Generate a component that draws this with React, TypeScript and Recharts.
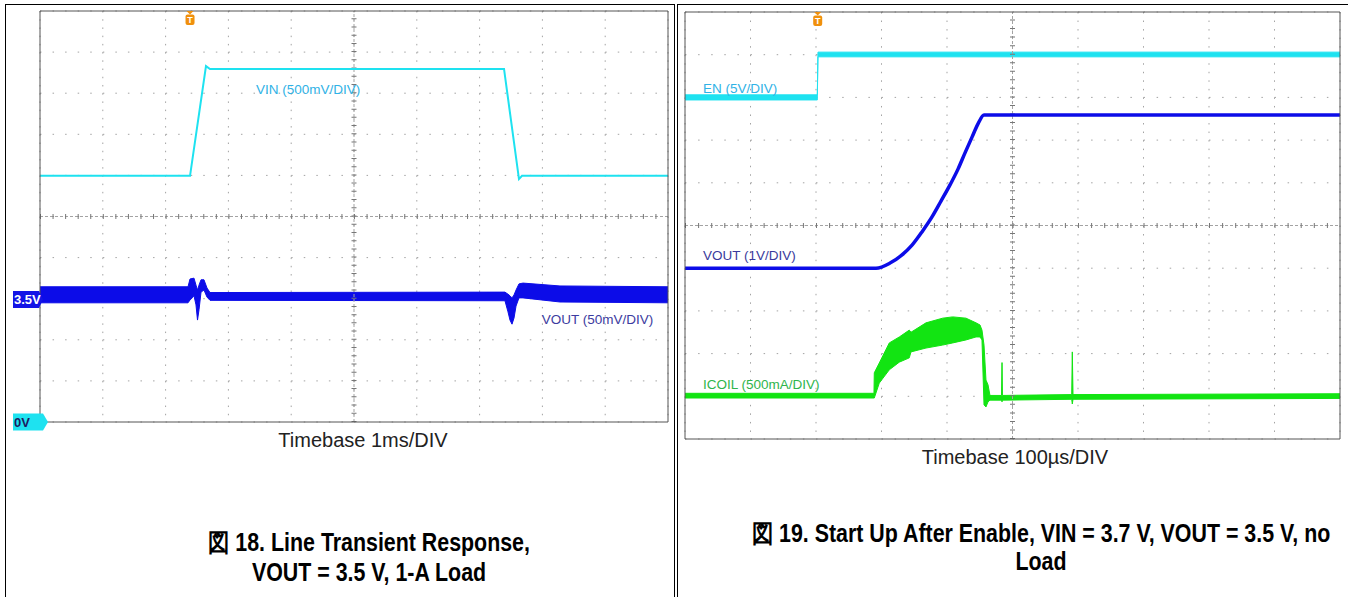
import React from "react";
import {
  ComposedChart,
  Line,
  Area,
  XAxis,
  YAxis,
  CartesianGrid,
  ReferenceLine,
  ReferenceDot,
} from "recharts";

const FONT = "'Liberation Sans', Arial, Helvetica, sans-serif";

const GRID = "#a3a3a3";
const FRAME = "#555555";
const CYAN = "#1ee2f0";
const BLUE = "#0c0ce8";
const GREEN = "#12e412";
const ORANGE = "#f0900c";

// scope screen: 10 x 10 divisions, minor ticks every 1/5 div
const majorTicks = [0, 1, 2, 3, 4, 5, 6, 7, 8, 9, 10];
const minorTicks = Array.from({ length: 51 }, (_, i) => (i * 2) / 10);

// --- Fig 18: line transient (x = ms, 1ms/div; y = divisions) ---
const vinTime = [0, 2.389, 2.643, 2.707, 7.389, 7.627, 7.675, 10];
const vinLevel = [5.99, 5.99, 8.66, 8.59, 8.59, 5.91, 5.99, 5.99];

const voutLTime = [
  0, 2.357, 2.389, 2.452, 2.484, 2.508, 2.532, 2.564, 2.611, 2.659, 2.707,
  7.404, 7.452, 7.484, 7.516, 7.548, 7.58, 7.627, 7.691, 8.28, 10,
];
const voutLLow = [
  2.9, 2.9, 2.97, 3.07, 2.85, 2.48, 2.73, 3.16, 3.21, 3.04, 2.96, 2.95, 2.68,
  2.48, 2.38, 2.53, 2.82, 3.02, 3.02, 2.92, 2.9,
];
const voutLHigh = [
  3.29, 3.29, 3.48, 3.5, 3.33, 3.21, 3.33, 3.46, 3.46, 3.26, 3.15, 3.16, 3.11,
  3.07, 3.02, 3.09, 3.21, 3.36, 3.38, 3.31, 3.29,
];

// --- Fig 19: start up after enable (x = divisions of 100us; y = divisions) ---
const enTime = [0, 2.02, 2.03, 10];
const enLow = [7.94, 7.94, 8.95, 8.95];
const enHigh = [8.06, 8.06, 9.06, 9.06];

const voutRTime = [
  0, 2.916, 3.13, 3.313, 3.466, 3.618, 3.771, 3.908, 4.046, 4.168, 4.275,
  4.382, 4.473, 4.565, 10,
];
const voutRLevel = [
  4.0, 4.0, 4.12, 4.31, 4.54, 4.85, 5.2, 5.57, 5.95, 6.32, 6.7, 7.07, 7.38,
  7.59, 7.59,
];

const icoilTime = [
  0, 2.885, 2.89, 2.966, 3.119, 3.272, 3.424, 3.45, 3.679, 3.934, 4.087, 4.29,
  4.443, 4.504, 4.534, 4.565, 4.595, 4.626, 4.656, 4.832, 4.84, 4.847, 5.904,
  5.913, 5.924, 10,
];
const icoilLow = [
  0.96, 0.96, 0.96, 1.31, 1.62, 1.8, 1.9, 2.04, 2.13, 2.2, 2.25, 2.32, 2.39,
  2.39, 2.32, 0.8, 0.75, 0.87, 0.91, 0.91, 0.87, 0.91, 0.93, 0.82, 0.93, 0.95,
];
const icoilHigh = [
  1.07, 1.07, 1.55, 1.78, 2.25, 2.39, 2.55, 2.5, 2.72, 2.83, 2.86, 2.83, 2.72,
  2.67, 2.55, 2.2, 1.38, 1.27, 1.02, 1.02, 1.79, 1.02, 1.04, 2.04, 1.04, 1.06,
];

const toLine = (t: number[], v: number[]) => t.map((x, i) => ({ t: x, v: v[i] }));
const toBand = (t: number[], lo: number[], hi: number[]) =>
  t.map((x, i) => ({ t: x, band: [lo[i], hi[i]] }));

const vinData = toLine(vinTime, vinLevel);
const voutLData = toBand(voutLTime, voutLLow, voutLHigh);
const enData = toBand(enTime, enLow, enHigh);
const voutRData = toLine(voutRTime, voutRLevel);
const icoilData = toBand(icoilTime, icoilLow, icoilHigh);

// grid, center cross and framed edges of the scope screen
function scopeScreen(hStep: number, vStep: number) {
  const edge = {
    type: "number" as const,
    domain: [0, 10],
    ticks: minorTicks,
    interval: 0 as const,
    mirror: true,
    tick: false,
    tickSize: 4,
    axisLine: { stroke: FRAME },
    tickLine: { stroke: FRAME },
    allowDataOverflow: true,
  };
  return [
    <XAxis key="x0" xAxisId={0} dataKey="t" type="number" domain={[0, 10]} ticks={majorTicks} hide allowDataOverflow />,
    <YAxis key="y0" yAxisId={0} type="number" domain={[0, 10]} ticks={majorTicks} hide allowDataOverflow />,
    <XAxis key="xt" xAxisId="top" orientation="top" {...edge} />,
    <XAxis key="xb" xAxisId="bot" orientation="bottom" {...edge} />,
    <YAxis key="yl" yAxisId="lft" orientation="left" {...edge} />,
    <YAxis key="yr" yAxisId="rgt" orientation="right" {...edge} />,
    <CartesianGrid key="gh" vertical={false} stroke={GRID} strokeDasharray={`1.5 ${hStep - 1.5}`} />,
    <CartesianGrid key="gv" horizontal={false} stroke={GRID} strokeDasharray={`1.5 ${vStep - 1.5}`} />,
    <ReferenceLine key="ch" y={5} stroke={GRID} strokeDasharray="3 2" />,
    <ReferenceLine key="cv" x={5} stroke={GRID} strokeDasharray="3 2" />,
    <ReferenceLine key="ch2" y={5} stroke="#777" strokeWidth={5} strokeDasharray={`1 ${hStep - 1}`} />,
    <ReferenceLine key="cv2" x={5} stroke="#777" strokeWidth={5} strokeDasharray={`1 ${vStep - 1}`} />,
  ];
}

const triggerShape = (p: any) => (
  <g>
    <polygon points={`${p.cx - 3.5},${p.cy} ${p.cx + 3.5},${p.cy} ${p.cx},${p.cy + 3.5}`} fill={ORANGE} />
    <rect x={p.cx - 4.5} y={p.cy + 3.5} width={9} height={10.5} rx={2} fill={ORANGE} />
    <text x={p.cx} y={p.cy + 12.2} textAnchor="middle" fill="#fff" fontSize={9} fontWeight="bold" fontFamily={FONT}>
      T
    </text>
  </g>
);

const labelShape = (text: string, color: string) => (p: any) => (
  <text x={p.cx} y={p.cy} dy="0.35em" fill={color} fontSize={13.5} fontFamily={FONT}>
    {text}
  </text>
);

const levelMarker = (text: string, fill: string, color: string, body: number, tip: number) => (p: any) => (
  <g>
    <polygon
      points={`${p.cx - 27},${p.cy - 8.5} ${p.cx + body},${p.cy - 8.5} ${p.cx + tip},${p.cy} ${p.cx + body},${p.cy + 8.5} ${p.cx - 27},${p.cy + 8.5}`}
      fill={fill}
    />
    <text x={p.cx - 26} y={p.cy} dy="0.36em" fill={color} fontSize={13} fontWeight="bold" fontFamily={FONT}>
      {text}
    </text>
  </g>
);

const captionStyle = (left: number, top: number, lineHeight: number): React.CSSProperties => ({
  position: "absolute",
  left,
  top,
  width: 800,
  textAlign: "center",
  fontFamily: FONT,
  fontWeight: "bold",
  fontSize: 25,
  lineHeight: `${lineHeight}px`,
  whiteSpace: "nowrap",
  color: "#000",
  transform: "scaleX(0.855)",
  transformOrigin: "50% 0",
});

export default function App() {
  return (
    <div
      style={{
        position: "absolute",
        left: 0,
        top: 0,
        width: 1348,
        height: 597,
        background: "#fff",
        overflow: "hidden",
        fontFamily: FONT,
      }}
    >
      {/* panel borders */}
      <div
        style={{
          position: "absolute",
          left: 5,
          top: 4,
          width: 668,
          height: 620,
          borderLeft: "1.5px solid #000",
          borderTop: "1.5px solid #000",
          borderRight: "1.5px solid #000",
        }}
      />
      <div
        style={{
          position: "absolute",
          left: 677,
          top: 4,
          width: 700,
          height: 620,
          borderLeft: "1.5px solid #000",
          borderTop: "1.5px solid #000",
        }}
      />

      {/* Fig 18 */}
      <div style={{ position: "absolute", left: 0, top: 0 }}>
        <ComposedChart width={680} height={440} margin={{ top: 11, right: 12, bottom: 18, left: 40 }}>
          {scopeScreen(12.56, 8.22)}
          <Area data={voutLData} dataKey="band" type="linear" stroke={BLUE} strokeWidth={1} fill={BLUE} fillOpacity={1} isAnimationActive={false} />
          <Line data={vinData} dataKey="v" type="linear" stroke={CYAN} strokeWidth={2} dot={false} isAnimationActive={false} />
          <ReferenceDot x={3.44} y={8.1} r={0} shape={labelShape("VIN (500mV/DIV)", "#30b2e6")} />
          <ReferenceDot x={7.99} y={2.49} r={0} shape={labelShape("VOUT (50mV/DIV)", "#3c3ca0")} />
          <ReferenceDot x={2.389} y={10} r={0} ifOverflow="visible" shape={triggerShape} />
          <ReferenceDot x={0} y={2.98} r={0} ifOverflow="visible" shape={levelMarker("3.5V", "#1414e6", "#fff", -1, 3)} />
          <ReferenceDot x={0} y={0} r={0} ifOverflow="visible" shape={levelMarker("0V", CYAN, "#1c1c60", 3, 8)} />
        </ComposedChart>
      </div>

      {/* Fig 19 */}
      <div style={{ position: "absolute", left: 676, top: 0 }}>
        <ComposedChart width={672} height={460} margin={{ top: 12, right: 8, bottom: 21, left: 9 }}>
          {scopeScreen(13.1, 8.54)}
          <Area data={enData} dataKey="band" type="linear" stroke={CYAN} strokeWidth={1} fill={CYAN} fillOpacity={1} isAnimationActive={false} />
          <Line data={voutRData} dataKey="v" type="monotone" stroke={BLUE} strokeWidth={3.5} dot={false} isAnimationActive={false} />
          <Area data={icoilData} dataKey="band" type="linear" stroke={GREEN} strokeWidth={1} fill={GREEN} fillOpacity={1} isAnimationActive={false} />
          <ReferenceDot x={0.275} y={8.22} r={0} shape={labelShape("EN (5V/DIV)", "#30b2e6")} />
          <ReferenceDot x={0.275} y={4.31} r={0} shape={labelShape("VOUT (1V/DIV)", "#3a3a9c")} />
          <ReferenceDot x={0.275} y={1.29} r={0} shape={labelShape("ICOIL (500mA/DIV)", "#2fb54c")} />
          <ReferenceDot x={2.026} y={10} r={0} ifOverflow="visible" shape={triggerShape} />
        </ComposedChart>
      </div>

      {/* texts */}
      <div style={{ position: "absolute", left: 263, top: 430, width: 200, textAlign: "center", fontSize: 20, lineHeight: "20px", color: "#222" }}>
        Timebase 1ms/DIV
      </div>
      <div style={{ position: "absolute", left: 915, top: 447, width: 200, textAlign: "center", fontSize: 20, lineHeight: "20px", color: "#222" }}>
        Timebase 100µs/DIV
      </div>
      <div style={captionStyle(-31, 527, 30)}>
        図 18. Line Transient Response,
        <br />
        VOUT = 3.5 V, 1-A Load
      </div>
      <div style={captionStyle(641, 519, 28)}>
        図 19. Start Up After Enable, VIN = 3.7 V, VOUT = 3.5 V, no
        <br />
        Load
      </div>
    </div>
  );
}
